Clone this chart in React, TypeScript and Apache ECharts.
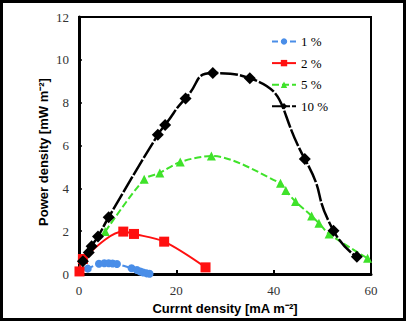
import React, { useEffect, useRef } from "react";
import * as echarts from "echarts";

const xTicks = [0, 20, 40, 60];
const yTicks = [0, 2, 4, 6, 8, 10, 12];
const seriesNames = ["1 %", "2 %", "5 %", "10 %"];

const blue1: [number, number][] = [
  [1.8, 0.25], [4.1, 0.48], [5.2, 0.5], [6.1, 0.5], [6.9, 0.49], [7.8, 0.47],
  [10.8, 0.27], [11.9, 0.19], [12.6, 0.12], [13.2, 0.07], [13.9, 0.03], [14.5, 0.01],
];
const red2: [number, number][] = [
  [0.1, 0.12], [0.8, 0.7], [9.1, 1.98], [11.3, 1.87], [17.5, 1.51], [26.0, 0.31],
];
const green5: [number, number][] = [
  [5.4, 1.98], [13.4, 4.42], [16.6, 4.72], [20.8, 5.23], [27.2, 5.51],
  [41.4, 4.24], [42.5, 3.9], [44.5, 3.38], [47.8, 2.71], [49.3, 2.37], [51.4, 1.87], [59.3, 0.73],
];
const black10: [number, number][] = [
  [0.8, 0.6], [2.0, 1.0], [2.6, 1.3], [3.9, 1.75], [6.1, 2.65], [16.2, 6.5], [17.7, 6.96],
  [21.9, 8.2], [27.5, 9.38], [35.1, 9.14], [46.4, 5.37], [52.3, 2.02], [57.1, 0.8],
];

const colors = ["#4a8ee8", "#ff1010", "#3fe22a", "#000000"];

export default function App() {
  const ref = useRef<HTMLDivElement>(null);
  useEffect(() => {
    if (!ref.current) return;
    const chart = echarts.init(ref.current, null, { renderer: "svg" });
    const serif = "'Liberation Serif', 'Times New Roman', serif";
    const sans = "'Liberation Sans', Arial, sans-serif";
    chart.setOption({
      animation: false,
      backgroundColor: "#ffffff",
      grid: {
        left: 79, right: 36, top: 17, bottom: 50,
        show: true, borderColor: "#000", borderWidth: 2, backgroundColor: "transparent",
      },
      legend: {
        orient: "vertical",
        left: 266,
        top: 30,
        itemWidth: 24,
        itemHeight: 8,
        itemGap: 8.6,
        data: seriesNames,
        textStyle: { fontFamily: serif, fontSize: 13, color: "#000" },
      },
      xAxis: {
        type: "value",
        min: xTicks[0],
        max: xTicks[xTicks.length - 1],
        interval: 20,
        axisLine: { lineStyle: { color: "#000", width: 3 } },
        axisTick: { show: true, inside: true, length: 4, lineStyle: { color: "#000", width: 2 } },
        splitLine: { show: false },
        axisLabel: { fontFamily: serif, fontSize: 13, color: "#333", margin: 10 },
      },
      yAxis: {
        type: "value",
        min: yTicks[0],
        max: yTicks[yTicks.length - 1],
        interval: 2,
        axisLine: { show: true, lineStyle: { color: "#000", width: 3 } },
        axisTick: { show: true, inside: true, length: 3, lineStyle: { color: "#000", width: 1.5 } },
        splitLine: { show: false },
        axisLabel: { fontFamily: serif, fontSize: 13, color: "#333", margin: 10 },
      },
      graphic: [
        {
          type: "rect",
          shape: { x: 1.5, y: 1.5, width: 403, height: 318 },
          style: { fill: "none", stroke: "#000", lineWidth: 3 },
          silent: true,
        },
        {
          type: "text",
          x: 43,
          y: 152,
          rotation: Math.PI / 2,
          style: {
            text: "Power density [mW m⁻²]",
            fontFamily: sans,
            fontWeight: "bold",
            fontSize: 13,
            fill: "#000",
            align: "center",
            verticalAlign: "middle",
          },
        },
        {
          type: "text",
          x: 225,
          y: 308,
          style: {
            text: "Currnt density [mA m⁻²]",
            fontFamily: sans,
            fontWeight: "bold",
            fontSize: 13,
            fill: "#000",
            align: "center",
            verticalAlign: "middle",
          },
        },
      ],
      series: [
        {
          name: seriesNames[0], type: "line", data: blue1, smooth: 0.3,
          symbol: "circle", symbolSize: 8,
          itemStyle: { color: colors[0] },
          lineStyle: { color: colors[0], width: 2, type: [6, 3] },
        },
        {
          name: seriesNames[1], type: "line", data: red2, smooth: 0.3,
          symbol: "rect", symbolSize: 10,
          itemStyle: { color: colors[1] },
          lineStyle: { color: colors[1], width: 2 },
        },
        {
          name: seriesNames[2], type: "line", data: green5, smooth: 0.3,
          symbol: "triangle", symbolSize: 9,
          itemStyle: { color: colors[2] },
          lineStyle: { color: colors[2], width: 2, type: [7, 3] },
        },
        {
          name: seriesNames[3], type: "line", data: black10, smooth: 0.6,
          symbol: "diamond", symbolSize: 12,
          itemStyle: { color: colors[3] },
          lineStyle: { color: colors[3], width: 2.5, type: [18, 2] },
        },
      ],
    });
    return () => chart.dispose();
  }, []);
  return (
    <div
      ref={ref}
      style={{ position: "fixed", left: 0, top: 0, width: 407, height: 324, background: "#fff" }}
    />
  );
}
